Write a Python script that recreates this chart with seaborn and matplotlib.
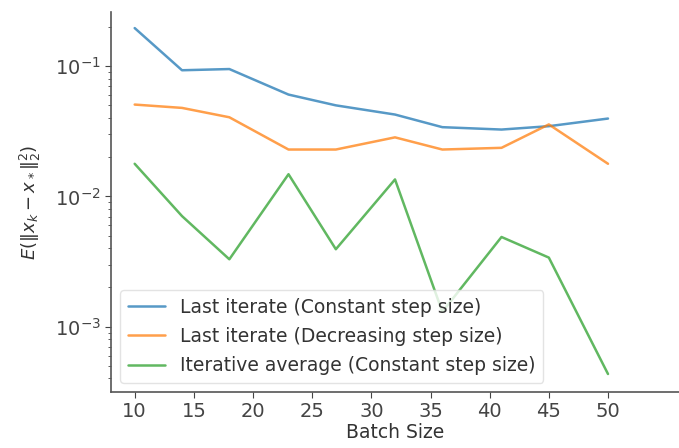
import numpy as np
import pandas as pd
import matplotlib
matplotlib.use("Agg")
import matplotlib.pyplot as plt
import seaborn as sns

# Batch sizes on the x axis
batch_sizes = [10, 14, 18, 23, 27, 32, 36, 41, 45, 50]

# Mean squared distance to the optimum for each method
last_constant = [0.196, 0.093, 0.095, 0.0605, 0.050, 0.0425, 0.034, 0.0326, 0.0346, 0.0396]
last_decreasing = [0.0507, 0.0478, 0.0405, 0.0229, 0.0229, 0.0284, 0.0229, 0.0236, 0.0357, 0.0178]
avg_constant = [0.0178, 0.00706, 0.00329, 0.0148, 0.00393, 0.0135, 0.0013, 0.00488, 0.00339, 0.000433]

labels = ["Last iterate (Constant step size)",
          "Last iterate (Decreasing step size)",
          "Iterative average (Constant step size)"]

df = pd.DataFrame({
    "Batch Size": batch_sizes * 3,
    "error": last_constant + last_decreasing + avg_constant,
    "method": [labels[0]] * 10 + [labels[1]] * 10 + [labels[2]] * 10,
})

sns.set_style("ticks")
plt.rcParams["font.family"] = ["DejaVu Sans"]

fig = plt.figure(figsize=(6.79, 4.48), dpi=100)
ax = fig.add_axes([0.1635, 0.125, 0.8365, 0.848])

sns.lineplot(data=df, x="Batch Size", y="error", hue="method",
             palette=["#1f77b4", "#ff7f0e", "#2ca02c"], linewidth=1.8,
             ax=ax, alpha=0.75)
ax.set_yscale("log")
ax.set_xlim(8, 56)
ax.set_ylim(3.15e-4, 0.26)
ax.set_xticks([10, 15, 20, 25, 30, 35, 40, 45, 50])

ax.set_xlabel("Batch Size", fontsize=13.5, color="#333333", labelpad=1)
ax.set_ylabel(r"$E(\|x_k - x_*\|_2^2)$", fontsize=13, color="#333333", labelpad=8)
ax.tick_params(axis="both", which="major", labelsize=14, colors="#444444", length=4)
ax.tick_params(axis="y", which="minor", colors="#444444", length=2.5)

sns.despine(ax=ax)
for s in ["left", "bottom"]:
    ax.spines[s].set_color("#555555")
    ax.spines[s].set_linewidth(1.2)

leg = ax.legend(loc="lower left", fontsize=13.5, frameon=True, handlelength=2.0,
                borderaxespad=0.5, labelspacing=0.55)
leg.get_frame().set_edgecolor("#dddddd")
for t in leg.get_texts():
    t.set_color("#333333")

fig.savefig("out.png", dpi=100)
